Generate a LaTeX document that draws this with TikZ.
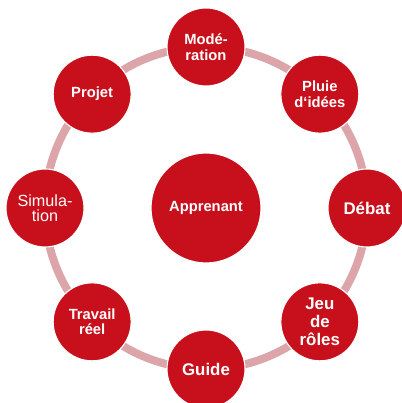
\documentclass[tikz,border=0pt]{standalone}
\usepackage{fontspec}
\setmainfont{Liberation Sans}

\definecolor{bubblered}{RGB}{200,16,28}
\definecolor{ringpink}{RGB}{220,165,170}

\begin{document}
\begin{tikzpicture}[
    bubble/.style={circle, fill=bubblered, draw=white, line width=0.8pt,
        minimum size=1.95cm, inner sep=0pt, text=white, align=center,
        font=\bfseries\fontsize{10.5}{11}\selectfont},
    bigtext/.style={font=\bfseries\fontsize{12}{13}\selectfont},
    plaintext/.style={font=\fontsize{11.5}{11}\selectfont}
]

    % Page size and centre of the wheel
    \useasboundingbox (0,0) rectangle (10.05,10.075);
    \coordinate (C) at (5.15,4.875);

    % Pale ring joining the outer circles
    \draw[line width=5.7pt, ringpink] (C) circle (4.025);

    % Centre circle
    \node[bubble, minimum size=2.75cm] (apprenant) at (C) {Apprenant};

    % Outer circles, every 45 degrees round the ring
    \node[bubble] (moderation) at ([shift={(90:4.025)}]C) {Modé-\\ration};
    \node[bubble] (pluie) at ([shift={(45:4.025)}]C) {Pluie\\d‘idées};
    \node[bubble, bigtext] (debat) at ([shift={(0:4.025)}]C) {Débat};
    \node[bubble, bigtext] (jeu) at ([shift={(-45:4.025)}]C) {Jeu\\de\\rôles};
    \node[bubble, bigtext] (guide) at ([shift={(-90:4.025)}]C) {Guide};
    \node[bubble] (travail) at ([shift={(-135:4.025)}]C) {Travail\\réel};
    \node[bubble, plaintext] (simulation) at ([shift={(180:4.025)}]C) {Simula-\\tion};
    \node[bubble] (projet) at ([shift={(135:4.025)}]C) {Projet};

\end{tikzpicture}
\end{document}
